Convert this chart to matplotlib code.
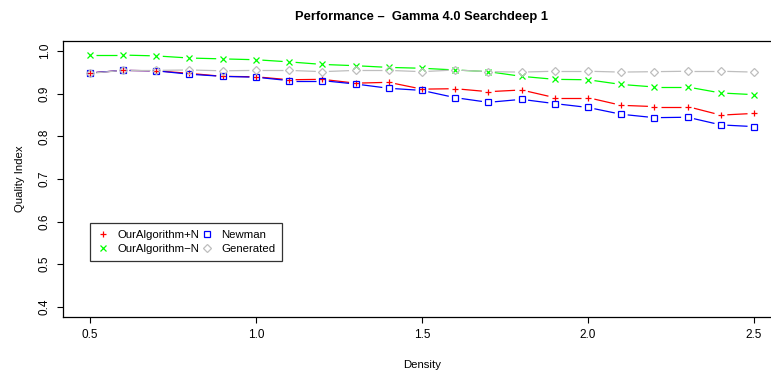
import numpy as np
import matplotlib
matplotlib.use("Agg")
import matplotlib.pyplot as plt
from matplotlib.lines import Line2D

plt.rcParams['font.family'] = ['Liberation Sans', 'DejaVu Sans']

density = [0.5, 0.6, 0.7, 0.8, 0.9, 1.0, 1.1, 1.2, 1.3, 1.4, 1.5,
           1.6, 1.7, 1.8, 1.9, 2.0, 2.1, 2.2, 2.3, 2.4, 2.5]
algo_plus = [0.949, 0.955, 0.954, 0.948, 0.941, 0.940, 0.933, 0.934, 0.925, 0.927, 0.911,
             0.912, 0.905, 0.909, 0.891, 0.891, 0.873, 0.870, 0.870, 0.850, 0.854]
algo_minus = [0.991, 0.991, 0.989, 0.984, 0.982, 0.980, 0.975, 0.969, 0.966, 0.962, 0.960,
              0.956, 0.952, 0.941, 0.934, 0.933, 0.922, 0.916, 0.916, 0.902, 0.898]
newman = [0.949, 0.955, 0.954, 0.946, 0.941, 0.939, 0.931, 0.931, 0.923, 0.913, 0.908,
          0.891, 0.880, 0.887, 0.877, 0.868, 0.852, 0.844, 0.845, 0.827, 0.823]
generated = [0.948, 0.955, 0.955, 0.956, 0.954, 0.955, 0.955, 0.952, 0.955, 0.955, 0.952,
             0.956, 0.952, 0.951, 0.953, 0.953, 0.951, 0.952, 0.953, 0.953, 0.951]

series = [
    ("OurAlgorithm+N", algo_plus, '#ff0000', '+'),
    ("OurAlgorithm\u2212N", algo_minus, '#00ff00', 'x'),
    ("Newman", newman, '#0000ff', 's'),
    ("Generated", generated, '#bebebe', 'D'),
]

W, H = 771, 376
fig = plt.figure(figsize=(W / 100, H / 100), dpi=100)
ax = fig.add_axes([63.3 / W, 1 - 317 / H, (780.6 - 63.3) / W, (317 - 41) / H])
ax.set_xlim(0.42, 2.58)
ax.set_ylim(0.376, 1.024)


def gapped_segments(ax, xs, ys, color, gap=6.5):
    # R type="b": lines stop short of each point
    pts = ax.transData.transform(np.column_stack([xs, ys]))
    inv = ax.transData.inverted()
    for p0, p1 in zip(pts[:-1], pts[1:]):
        d = p1 - p0
        L = np.hypot(*d)
        if L <= 2 * gap:
            continue
        u = d / L
        a = inv.transform(p0 + u * gap)
        b = inv.transform(p1 - u * gap)
        ax.plot([a[0], b[0]], [a[1], b[1]], color=color, lw=0.9, solid_capstyle='butt')


def msize(mk):
    return 3.9 if mk == 'D' else 4.5


for name, vals, col, mk in series:
    gapped_segments(ax, density, vals, col)
    ax.plot(density, vals, ls='none', marker=mk, ms=msize(mk), mfc='none', mec=col, mew=0.9)

ax.set_xticks([0.5, 1.0, 1.5, 2.0, 2.5])
ax.set_xticklabels(['0.5', '1.0', '1.5', '2.0', '2.5'])
ax.set_yticks([0.4, 0.5, 0.6, 0.7, 0.8, 0.9, 1.0])
ax.set_yticklabels(['0.4', '0.5', '0.6', '0.7', '0.8', '0.9', '1.0'], rotation=90, va='center')
ax.tick_params(direction='out', length=4, width=0.8, labelsize=8.5, pad=5)
for s in ax.spines.values():
    s.set_linewidth(0.9)

ax.set_title("Performance \u2013  Gamma 4.0 Searchdeep 1", fontsize=9.3, fontweight='bold', pad=15)
ax.set_xlabel("Density", fontsize=8.2, labelpad=13)
ax.set_ylabel("Quality Index", fontsize=8.2, labelpad=10)

handles = [Line2D([], [], ls='none', marker=mk, ms=msize(mk), mfc='none',
                  mec=col, mew=0.9) for _, _, col, mk in series]
labels = [name for name, _, _, _ in series]
leg = ax.legend(handles, labels, ncol=2, loc='upper left',
                bbox_to_anchor=((90 - 63.3) / (780.6 - 63.3), (317 - 222.7) / (317 - 41)),
                fontsize=8.2, frameon=True, fancybox=False, edgecolor='black',
                handlelength=1.0, handletextpad=0.8, columnspacing=0.15,
                labelspacing=0.38, borderpad=0.6, borderaxespad=0)
leg.get_frame().set_linewidth(0.9)

fig.savefig("out.png", dpi=100)
